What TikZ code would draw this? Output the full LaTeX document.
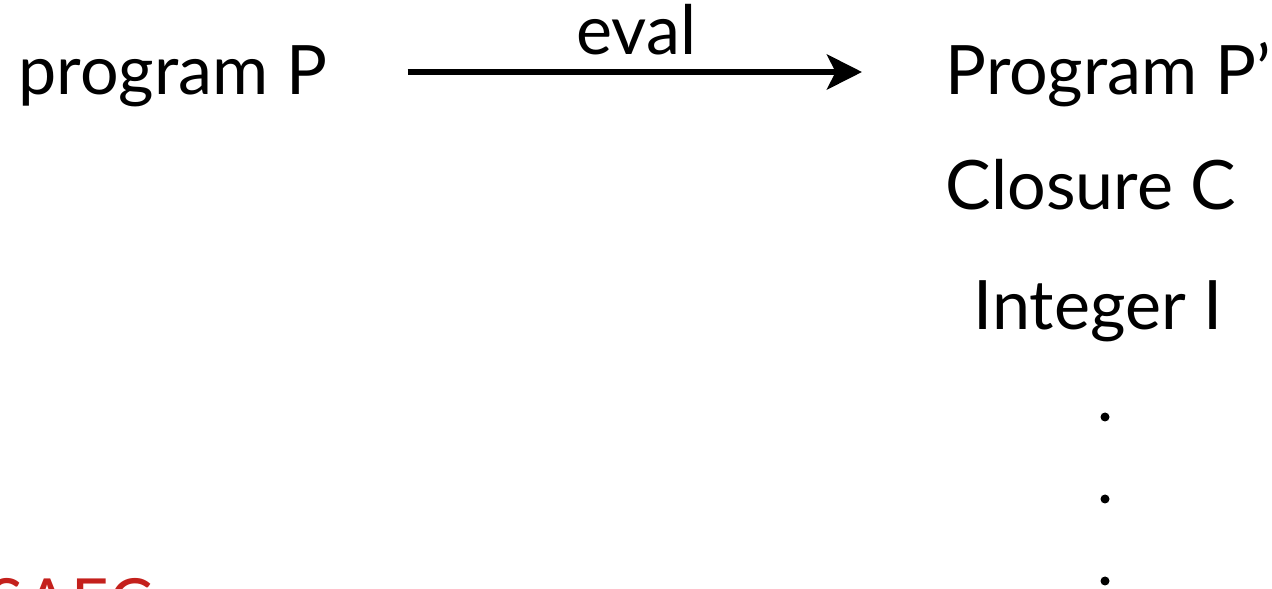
\documentclass[tikz,border=0pt]{standalone}
\usepackage{fontspec}
\setmainfont{Lato}
\usetikzlibrary{arrows.meta}
\definecolor{logored}{RGB}{196,32,28}
\tikzset{
  lbl/.style={anchor=base west,inner sep=0pt,font=\fontsize{19.4}{24}\selectfont},
  vdot/.style={circle,fill=black,inner sep=0pt,minimum size=0.09cm},
}
\begin{document}
\begin{tikzpicture}[>={Stealth[length=10pt,width=10pt,inset=2.5pt]}]
\useasboundingbox (0,0) rectangle (12.72,-5.89);
\node[lbl] (P) at (0.18,-0.95) {program P};
\node[lbl] (Pp) at (9.45,-0.95) {Program P'};
\node[lbl] (C) at (9.45,-2.10) {Closure C};
\node[lbl] (I) at (9.73,-3.30) {Integer I};
\node[vdot] (d1) at (11.05,-4.17) {};
\node[vdot] (d2) at (11.05,-4.99) {};
\node[vdot] (d3) at (11.05,-5.81) {};
\draw[->,line width=1.6pt,shorten <=0.8cm,shorten >=0.83cm]
  ([yshift=0.23cm]P.base east) -- node[above=0.02cm,font=\fontsize{19.4}{24}\selectfont] (ev) {eval} ([yshift=0.23cm]Pp.base west);
% clipped logo at the bottom
\node[lbl,text=logored,font=\fontsize{18.5}{22}\selectfont\addfontfeature{LetterSpace=3}] (logo) at (-0.12,-6.25) {SAEC};
\end{tikzpicture}
\end{document}
